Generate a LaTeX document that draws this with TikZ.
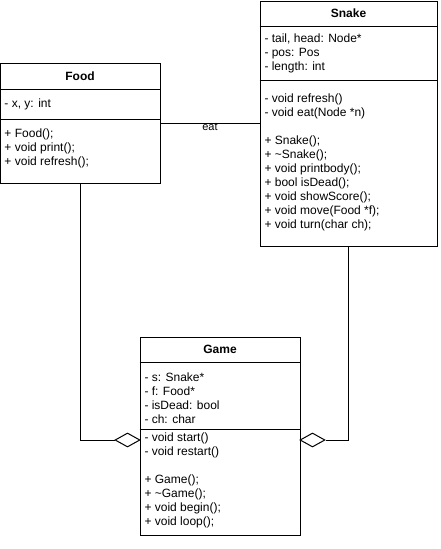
\documentclass[tikz,border=0pt]{standalone}
\usepackage{fontspec}
\setmainfont{Liberation Sans}
\usetikzlibrary{shapes.geometric}

\begin{document}
\begin{tikzpicture}[x=1pt, y=-1pt, line width=1pt,
    classbox/.style={draw, rectangle, inner sep=0pt},
    classname/.style={font=\fontsize{12}{14}\selectfont\bfseries},
    members/.style={anchor=north west, align=left, inner sep=0pt, font=\fontsize{12}{14}\selectfont},
    aggregation/.style={draw, diamond, fill=white, inner sep=0pt, minimum width=25pt, minimum height=14pt}]

    \useasboundingbox (0,0) rectangle (441,549);

    % 1. FOOD CLASS
    \node[classbox, minimum width=159.5pt, minimum height=120pt] (food) at (80.25,123) {};
    \draw (food.west |- 0,89) -- (food.east |- 0,89);
    \draw (food.west |- 0,119) -- (food.east |- 0,119);
    \node[classname] (foodname) at (80,76) {Food};
    \node[members] (foodattr) at (4,98.5) {- x, y: int};
    \node[members] (foodops) at (4,128.5) {+ Food();\\ + void print();\\ + void refresh();};

    % 2. SNAKE CLASS
    \node[classbox, minimum width=177pt, minimum height=245pt] (snake) at (348.5,123.5) {};
    \draw (snake.west |- 0,26) -- (snake.east |- 0,26);
    \draw (snake.west |- 0,80) -- (snake.east |- 0,80);
    \node[classname] (snakename) at (348.5,13.5) {Snake};
    \node[members] (snakeattr) at (264,33.5) {- tail, head: Node*\\ - pos: Pos\\ - length: int};
    \node[members] (snakeops) at (264,93.5) {- void refresh()\\ - void eat(Node *n)\\[14pt]
        + Snake();\\ + \textasciitilde Snake();\\ + void printbody();\\ + bool isDead();\\
        + void showScore();\\ + void move(Food *f);\\ + void turn(char ch);};

    % 3. GAME CLASS
    \node[classbox, minimum width=160pt, minimum height=198pt] (game) at (220,436) {};
    \draw (game.west |- 0,362) -- (game.east |- 0,362);
    \draw (game.west |- 0,429) -- (game.east |- 0,429);
    \node[classname] (gamename) at (220,349.5) {Game};
    \node[members] (gameattr) at (144,372.5) {- s: Snake*\\ - f: Food*\\ - isDead: bool\\ - ch: char};
    \node[members] (gameops) at (144,432.5) {- void start()\\ - void restart()\\[14pt]
        + Game();\\ + \textasciitilde Game();\\ + void begin();\\ + void loop();};

    % ASSOCIATION (Food -- Snake)
    \draw (food.east) -- (snake.west |- food.east)
        node[pos=0.5, yshift=-4pt, font=\fontsize{11}{13}\selectfont] (eatlabel) {eat};

    % AGGREGATIONS (into Game)
    \node[aggregation] (aggfood) at (127.5,440) {};
    \node[aggregation] (aggsnake) at (312.5,440) {};
    \draw (food.south) |- (aggfood.west);
    \draw (snake.south) |- (aggsnake.east);

\end{tikzpicture}
\end{document}
